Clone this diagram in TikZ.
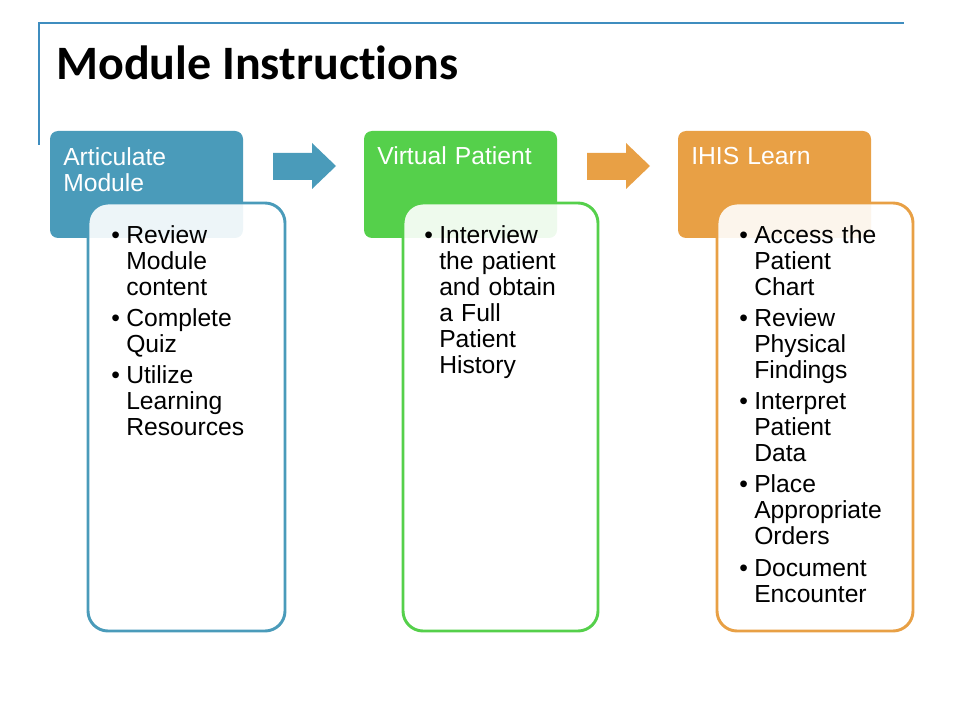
\documentclass[tikz,border=0pt]{standalone}
\usepackage{fontspec}
\setmainfont{Liberation Sans}
\newfontfamily\titlefont[Ligatures={NoCommon,NoRare}]{Carlito}
\definecolor{modblue}{HTML}{4A9BBA}
\definecolor{modgreen}{HTML}{55D04B}
\definecolor{modorange}{HTML}{E8A045}
\definecolor{ruleblue}{HTML}{3F8DBF}
\newcommand{\bitem}[1]{\hangindent=11.25pt\hangafter=1\noindent\strut\makebox[11.25pt][l]{\textbullet}#1\par}
\newcommand{\bgap}{\vskip3.9pt}

\begin{document}
\begin{tikzpicture}[x=0.75pt,y=-0.75pt]
\tikzset{head/.style={fill=#1,rounded corners=6pt}}
\tikzset{body/.style={draw=#1,line width=2.2pt,fill=white,fill opacity=0.9,draw opacity=1,text opacity=1,rounded corners=15pt}}
\tikzset{txt/.style={anchor=north west,inner sep=0pt,text width=170pt,align=left,font=\fontsize{18.5pt}{19.5pt}\selectfont}}
\tikzset{headtxt/.style={txt,text=white}}
\useasboundingbox (0,0) rectangle (960,720);
% frame lines
\coordinate (ruleL) at (38,23);
\coordinate (ruleR) at (904,23);
\coordinate (ruleB) at (39,145);
\draw[ruleblue,line width=1.3pt] (ruleL) -- (ruleR);
\draw[ruleblue,line width=1.3pt] (39,23) -- (ruleB);
\node[anchor=base west,inner sep=0pt,font=\titlefont\bfseries\fontsize{36pt}{40pt}\selectfont] (title) at (56,80) {Module Instructions};
% headers
\fill[head=modblue] (50,131) rectangle (243,238);
\fill[head=modgreen] (364,131) rectangle (557,238);
\fill[head=modorange] (678,131) rectangle (871,238);
% arrows
\fill[modblue] (273,153) -- (312,153) -- (312,143) -- (336,166) -- (312,189) -- (312,180) -- (273,180) -- cycle;
\fill[modorange] (587,153) -- (626,153) -- (626,143) -- (650,166) -- (626,189) -- (626,180) -- (587,180) -- cycle;
% bodies
\path[body=modblue] (88,203) rectangle (285,631);
\path[body=modgreen] (403,203) rectangle (598,631);
\path[body=modorange] (717,203) rectangle (913,631);
% header texts
\node[headtxt] (artic) at (63,146.8) {\strut Articulate\newline Module};
\node[headtxt] (virtual) at (377,145.8) {\strut Virtual Patient};
\node[headtxt] (ihis) at (691,145.8) {\strut IHIS Learn};
% body texts
\node[txt] (articlist) at (111,224.8) {%
  \bitem{Review\newline Module\newline content}\bgap
  \bitem{Complete\newline Quiz}\bgap
  \bitem{Utilize\newline Learning\newline Resources}};
\node[txt] (virtuallist) at (424,224.8) {%
  \bitem{Interview\newline the patient\newline and obtain\newline a Full\newline Patient\newline History}};
\node[txt] (ihislist) at (739,224.8) {%
  \bitem{Access the\newline Patient\newline Chart}\bgap
  \bitem{Review\newline Physical\newline Findings}\bgap
  \bitem{Interpret\newline Patient\newline Data}\bgap
  \bitem{Place\newline Appropriate\newline Orders}\bgap
  \bitem{Document\newline Encounter}};
\end{tikzpicture}
\end{document}
